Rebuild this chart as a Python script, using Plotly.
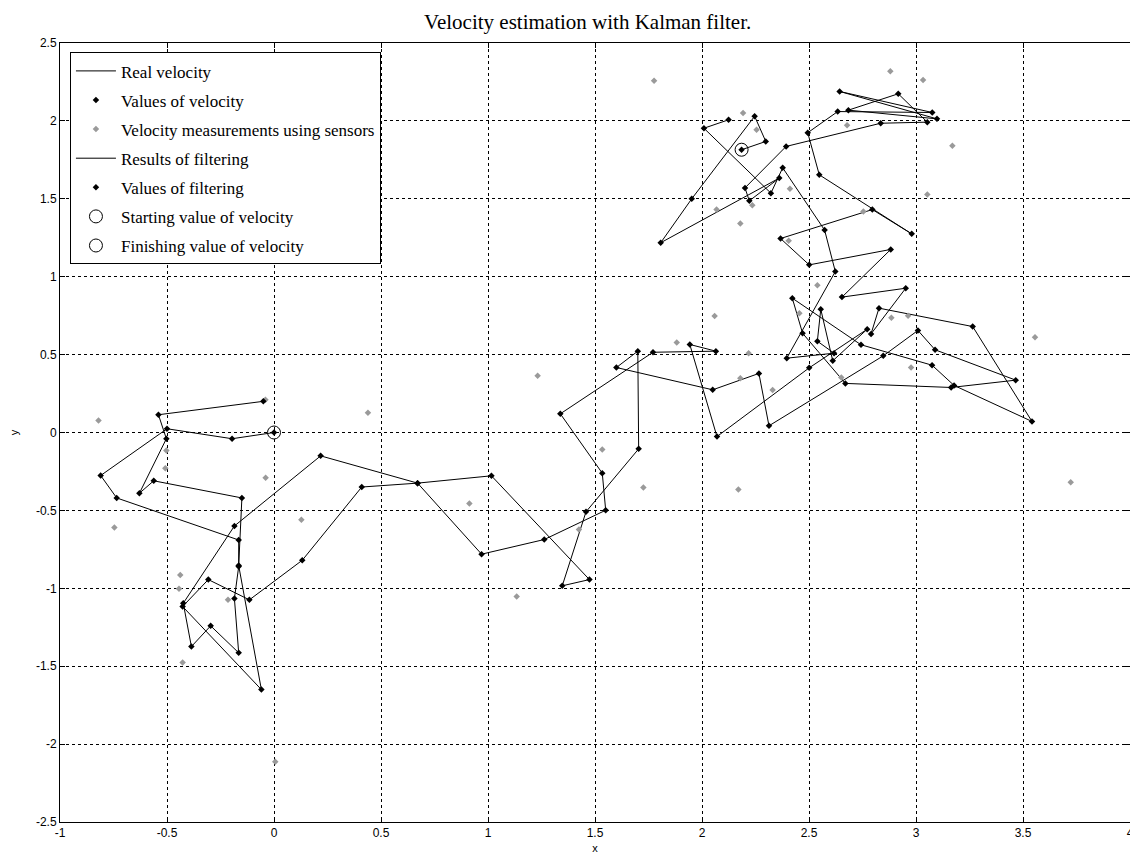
import plotly.graph_objects as go

# ---------------- data ----------------
real_x = [0.0, -0.196, -0.50, -0.81, -0.735, -0.165, -0.165, -0.185, -0.165, -0.296, -0.386, -0.424,
          -0.185, 0.218, 0.671, 1.016, 1.474, 1.347, 1.458, 1.704, 1.70, 1.60, 2.05, 2.266, 2.313,
          2.847, 3.009, 3.089, 3.466, 3.164, 2.67, 2.47, 2.422, 2.743, 3.075, 3.178, 3.542, 3.265,
          2.827, 2.79, 2.952, 2.654, 2.882, 2.501, 2.367, 2.796, 2.98, 2.548, 2.494, 2.634, 3.076,
          2.643, 3.098, 2.684, 2.917, 3.053, 2.835, 2.393, 2.201, 2.221, 2.361, 1.807, 1.952, 2.246,
          2.298, 2.185]
real_y = [0.0, -0.04, 0.024, -0.276, -0.42, -0.69, -0.86, -1.066, -1.414, -1.241, -1.374, -1.096,
          -0.60, -0.15, -0.325, -0.278, -0.944, -0.984, -0.509, -0.105, 0.522, 0.417, 0.274, 0.379, 0.043,
          0.492, 0.655, 0.531, 0.336, 0.289, 0.315, 0.637, 0.862, 0.563, 0.432, 0.302, 0.071, 0.68,
          0.798, 0.633, 0.926, 0.869, 1.175, 1.076, 1.245, 1.431, 1.275, 1.654, 1.924, 2.06, 2.054,
          2.189, 2.013, 2.069, 2.174, 1.992, 1.985, 1.836, 1.57, 1.487, 1.633, 1.218, 1.50, 2.03,
          1.868, 1.815]

filt_x = [-0.05, -0.54, -0.503, -0.629, -0.562, -0.15, -0.165, -0.059, -0.427, -0.307, -0.115, 0.132,
          0.41, 0.671, 0.97, 1.263, 1.55, 1.534, 1.338, 1.771, 2.065, 1.943, 2.07, 2.501, 2.772,
          2.611, 2.555, 2.539, 2.617, 2.396, 2.623, 2.573, 2.377, 2.322, 2.009, 2.124]
filt_y = [0.20, 0.114, -0.04, -0.39, -0.31, -0.42, -0.854, -1.65, -1.117, -0.944, -1.074, -0.82,
          -0.35, -0.325, -0.781, -0.687, -0.499, -0.261, 0.12, 0.515, 0.522, 0.565, -0.026, 0.415, 0.663,
          0.46, 0.791, 0.586, 0.509, 0.477, 1.033, 1.299, 1.699, 1.536, 1.953, 2.007]

meas_x = [-0.04, -0.82, -0.503, -0.508, -0.039, -0.746, 0.439, 0.128, -0.438, -0.444, -0.215, -0.427,
          0.006, 1.534, 1.726, 0.913, 1.425, 1.134, 1.776, 2.192, 2.255, 2.411, 2.235, 2.068, 2.179,
          2.405, 2.678, 2.88, 2.539, 3.033, 3.17, 3.053, 2.754, 2.455, 2.885, 2.963, 2.977, 2.651,
          2.33, 3.556, 3.723, 1.232, 1.882, 2.059, 2.218, 2.179, 2.17]
meas_y = [0.21, 0.077, -0.116, -0.229, -0.29, -0.61, 0.126, -0.56, -0.914, -1.003, -1.074, -1.476,
          -2.113, -0.109, -0.353, -0.456, -0.623, -1.053, 2.257, 2.05, 1.943, 1.564, 1.459, 1.431, 1.341,
          1.23, 1.972, 2.319, 0.945, 2.263, 1.84, 1.528, 1.418, 0.766, 0.736, 0.749, 0.417, 0.353,
          0.272, 0.612, -0.319, 0.364, 0.578, 0.747, 0.509, 0.349, -0.366]

start_x = [0.0]
start_y = [0.0]
finish_x = [2.185]
finish_y = [1.815]

x_ticks = [-1, -0.5, 0, 0.5, 1, 1.5, 2, 2.5, 3, 3.5, 4]
x_tick_labels = ["-1", "-0.5", "0", "0.5", "1", "1.5", "2", "2.5", "3", "3.5", "4"]
y_ticks = [-2.5, -2, -1.5, -1, -0.5, 0, 0.5, 1, 1.5, 2, 2.5]
y_tick_labels = ["-2.5", "-2", "-1.5", "-1", "-0.5", "0", "0.5", "1", "1.5", "2", "2.5"]

# ---------------- figure ----------------
fig = go.Figure()
LINE = dict(color="black", width=1)
MK = dict(symbol="diamond", size=5, color="black")

fig.add_trace(go.Scatter(x=real_x, y=real_y, mode="lines", line=LINE,
                         name="Real velocity", legendgroup="a"))
fig.add_trace(go.Scatter(x=real_x, y=real_y, mode="markers", marker=MK,
                         name="Values of velocity", legendgroup="b"))
fig.add_trace(go.Scatter(x=meas_x, y=meas_y, mode="markers",
                         marker=dict(symbol="diamond", size=5, color="#9a9a9a"),
                         name="Velocity measurements using sensors", legendgroup="c"))
fig.add_trace(go.Scatter(x=filt_x, y=filt_y, mode="lines", line=LINE,
                         name="Results of filtering", legendgroup="d"))
fig.add_trace(go.Scatter(x=filt_x, y=filt_y, mode="markers", marker=MK,
                         name="Values of filtering", legendgroup="e"))
fig.add_trace(go.Scatter(x=start_x, y=start_y, mode="markers",
                         marker=dict(symbol="circle-open", size=13, color="black", line=dict(width=1)),
                         name="Starting value of velocity", legendgroup="f"))
fig.add_trace(go.Scatter(x=finish_x, y=finish_y, mode="markers",
                         marker=dict(symbol="circle-open", size=13, color="black", line=dict(width=1)),
                         name="Finishing value of velocity", legendgroup="g"))

axis_common = dict(showline=True, linecolor="black", linewidth=1, mirror="allticks",
                   ticks="inside", ticklen=5, tickcolor="black",
                   showgrid=True, gridcolor="black", gridwidth=1, griddash="3px,3px",
                   zeroline=False, ticklabeloverflow="allow", automargin=False,
                   tickfont=dict(family="Liberation Sans, Arial", size=12, color="black"))

fig.update_xaxes(range=[-1, 4], tickvals=x_ticks, ticktext=x_tick_labels,
                 title=dict(text="x", font=dict(family="Liberation Sans, Arial", size=11, color="black"),
                            standoff=4), **axis_common)
fig.update_yaxes(range=[-2.5, 2.5], tickvals=y_ticks, ticktext=y_tick_labels,
                 title=dict(text="y", font=dict(family="Liberation Sans, Arial", size=11, color="black"),
                            standoff=26), **axis_common)

fig.update_layout(
    width=1130, height=849,
    margin=dict(l=52, r=8, t=35, b=35),
    paper_bgcolor="white", plot_bgcolor="white",
    title=dict(text="Velocity estimation with Kalman filter.", x=0.513, xanchor="center",
               y=0.992, yanchor="top", automargin=False,
               font=dict(family="Liberation Serif, Times New Roman, serif", size=21, color="black")),
    legend=dict(x=0.0093, y=0.988, xanchor="left", yanchor="top",
                bordercolor="black", borderwidth=1, bgcolor="white",
                font=dict(family="Liberation Serif, Times New Roman, serif", size=17, color="black"),
                tracegroupgap=4, itemwidth=40),
    showlegend=True,
)

fig.write_html("out.html")
